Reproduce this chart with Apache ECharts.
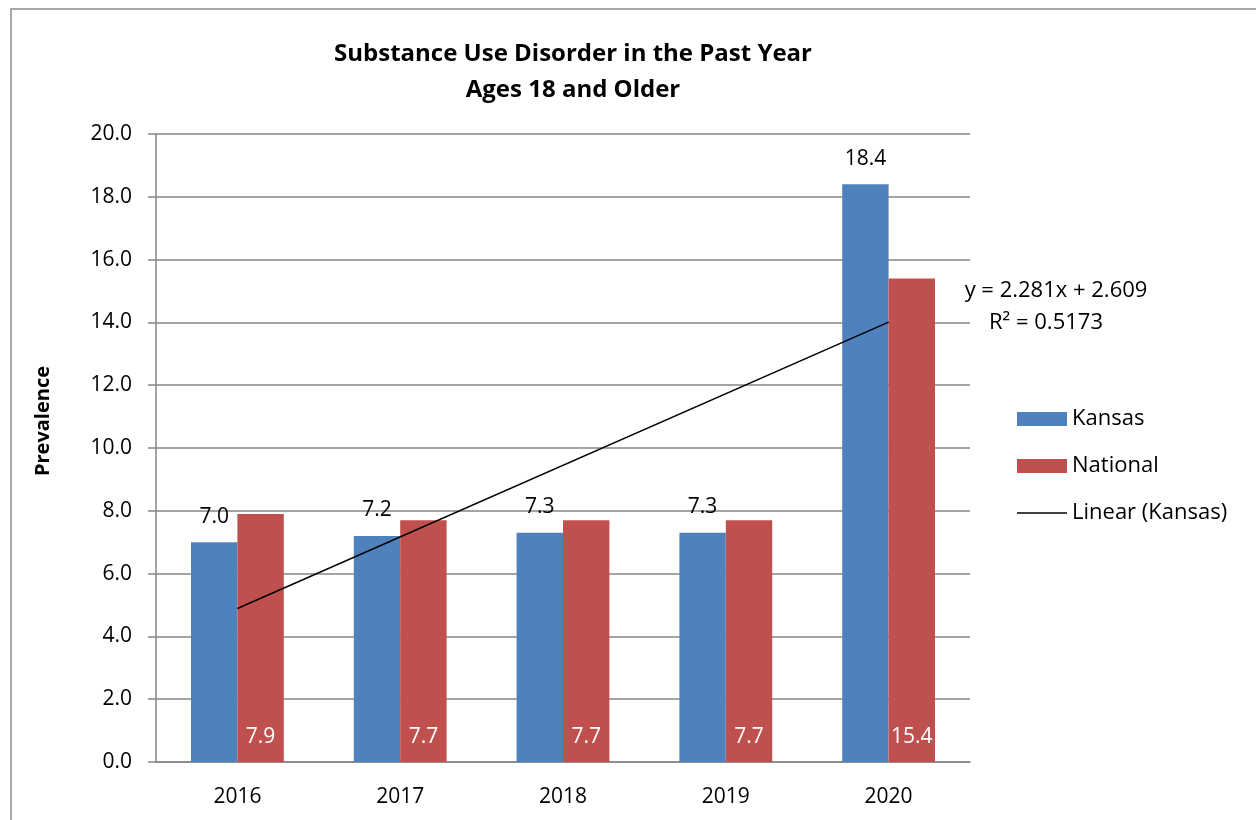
<!DOCTYPE html>
<html lang="en">
<head>
<meta charset="UTF-8">
<title>Substance Use Disorder</title>
<style>
    * { margin: 0; padding: 0; }
    #chart { width: 1256px; height: 820px; background: #fff; }
</style>
<script src="https://cdn.jsdelivr.net/npm/echarts@6/dist/echarts.min.js"></script>
</head>
<body>
<div id="chart"></div>
<script>
// data
var years = ['2016', '2017', '2018', '2019', '2020'];
var kansas = [7.0, 7.2, 7.3, 7.3, 18.4];
var national = [7.9, 7.7, 7.7, 7.7, 15.4];
// linear trend of Kansas, as printed on the chart (ends only, straight line between)
var trend = [4.89, null, null, null, 14.01];
var trendText = ['y = 2.281x + 2.609', 'R² = 0.5173'];

var font = '"Open Sans", "Noto Sans", sans-serif';
var chart = echarts.init(document.getElementById('chart'));

function one(p) { return p.value.toFixed(1); }

var option = {
    textStyle: { fontFamily: font },
    title: {
        text: 'Substance Use Disorder in the Past Year\nAges 18 and Older',
        left: 568,
        textAlign: 'center',
        top: 31,
        textStyle: { fontSize: 24, fontWeight: 'bold', color: '#000', lineHeight: 36, fontFamily: font }
    },
    grid: { left: 156, right: 286, top: 134, bottom: 58 },
    legend: {
        orient: 'vertical',
        left: 1012,
        top: 403,
        itemWidth: 50,
        itemHeight: 14,
        itemGap: 25,
        textStyle: { fontSize: 22, color: '#000', fontFamily: font },
        data: [
            { name: 'Kansas', icon: 'rect' },
            { name: 'National', icon: 'rect' },
            { name: 'Linear (Kansas)', icon: 'path://M0,0 L50,0 L50,1.5 L0,1.5 Z' }
        ]
    },
    xAxis: {
        type: 'category',
        data: years,
        axisTick: { show: false },
        axisLine: { lineStyle: { color: '#868686', width: 1.5 } },
        axisLabel: { fontSize: 21, color: '#000', margin: 25, fontFamily: font }
    },
    yAxis: {
        type: 'value',
        min: 0,
        max: 20,
        interval: 2,
        axisLine: { show: true, lineStyle: { color: '#868686', width: 1.5 } },
        axisTick: { show: true, length: 8, lineStyle: { color: '#868686', width: 1.5 } },
        axisLabel: {
            fontSize: 21, color: '#000', margin: 24, fontFamily: font,
            formatter: function (v) { return v.toFixed(1); }
        },
        splitLine: { lineStyle: { color: '#868686', width: 1.5 } }
    },
    series: [
        {
            name: 'Kansas',
            type: 'bar',
            data: kansas,
            barGap: '0%',
            barCategoryGap: '43%',
            itemStyle: { color: '#4F81BD' },
            label: {
                show: true, position: 'top', distance: 15,
                fontSize: 21, color: '#000', fontFamily: font,
                formatter: one
            }
        },
        {
            name: 'National',
            type: 'bar',
            data: national,
            itemStyle: { color: '#C0504D' },
            label: {
                show: true, position: 'insideBottom', distance: 14,
                fontSize: 21, color: '#fff', fontFamily: font,
                formatter: one
            }
        },
        {
            name: 'Linear (Kansas)',
            type: 'line',
            data: trend,
            connectNulls: true,
            symbol: 'none',
            lineStyle: { color: '#000', width: 1.5 },
            itemStyle: { color: '#000' },
            z: 5
        }
    ],
    graphic: [
        {
            type: 'rect',
            shape: { x: 11, y: 9, width: 1300, height: 900 },
            style: { fill: 'none', stroke: '#8c8c8c', lineWidth: 1.5 },
            silent: true
        },
        {
            type: 'text',
            x: 43,
            y: 421,
            rotation: Math.PI / 2,
            style: {
                text: 'Prevalence', fill: '#000', align: 'center', verticalAlign: 'middle',
                font: 'bold 20px ' + font
            }
        },
        {
            type: 'text',
            x: 1056,
            y: 291,
            style: { text: trendText[0], fill: '#000', align: 'center', verticalAlign: 'middle', font: '22px ' + font }
        },
        {
            type: 'text',
            x: 1046,
            y: 323,
            style: { text: trendText[1], fill: '#000', align: 'center', verticalAlign: 'middle', font: '22px ' + font }
        }
    ]
};
chart.setOption(option);
</script>
</body>
</html>
